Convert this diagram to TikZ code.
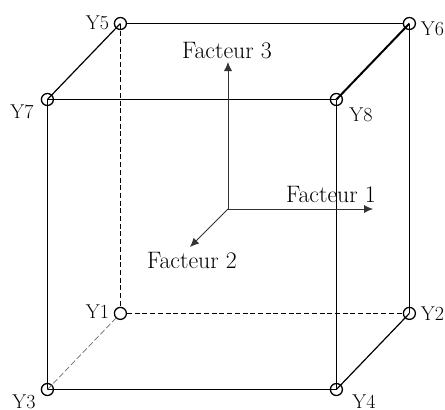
\documentclass[tikz,border=0pt]{standalone}
\usepackage{fontspec}
\usepackage{xcolor}
\usepackage{tikz}
\usetikzlibrary{
    arrows.meta
}
\tikzset{
    cube corner/.style={
        draw,
        circle,
        minimum size=12pt,
        inner sep=0pt,
        line width=1.3pt
    },
    cube label/.style={font=\fontsize{20}{22}\selectfont, inner sep=0pt},
    factor label/.style={font=\fontsize{23.8}{26}\selectfont, inner sep=0pt},
    cube edge/.style={line width=1.2pt},
    cube thick/.style={line width=2pt},
    cube hidden/.style={line width=1pt, dash pattern=on 5pt off 2.7pt},
    cube faint/.style={line width=0.7pt, draw=gray!85!black, dash pattern=on 6pt off 2.5pt},
    factor arrow/.style={-{Latex[length=9pt,width=8pt]}, line width=0.8pt, draw=black!80}
}
\begin{document}
\begin{tikzpicture}[x=1pt,y=-1pt]
    \useasboundingbox (0,0) rectangle (445,410);

    \node[cube corner] (y1) at (120.4,313.4) {};
    \node[cube corner] (y2) at (409.4,313.4) {};
    \node[cube corner] (y3) at (47.4,389.5) {};
    \node[cube corner] (y4) at (336.4,389.5) {};
    \node[cube corner] (y5) at (120.4,23.5) {};
    \node[cube corner] (y6) at (409.4,23.5) {};
    \node[cube corner] (y7) at (47.4,99.5) {};
    \node[cube corner] (y8) at (336.4,99.5) {};

    \node[cube label] (labelone) at (97.5,312) {Y1};
    \node[cube label] (labeltwo) at (432.5,314) {Y2};
    \node[cube label] (labelthree) at (24,401.5) {Y3};
    \node[cube label] (labelfour) at (364,401.5) {Y4};
    \node[cube label] (labelfive) at (97.5,23) {Y5};
    \node[cube label] (labelsix) at (432.5,29) {Y6};
    \node[cube label] (labelseven) at (22,112) {Y7};
    \node[cube label] (labeleight) at (361,115) {Y8};

    \coordinate (origin) at (228,209);
    \coordinate (tipone) at (373,209);
    \coordinate (tiptwo) at (190,247);
    \coordinate (tipthree) at (228,62);
    \node[factor label] (factorone) at (331,194) {Facteur 1};
    \node[factor label] (factortwo) at (192,260) {Facteur 2};
    \node[factor label] (factorthree) at (227,51) {Facteur 3};

    \draw[cube edge] (y5) -- (y6);
    \draw[cube edge] (y7.center) -- (y8.center);
    \draw[cube edge] (y3.center) -- (y4.center);
    \draw[cube edge] (y7.center) -- (y3.center);
    \draw[cube edge] (y8.center) -- (y4.center);
    \draw[cube edge] (y6.center) -- (y2.center);
    \draw[cube edge] (y7.center) -- (y5.center);
    \draw[cube edge] (y4.center) -- (y2.center);
    \draw[cube thick] (y8.center) -- (y6.center);

    \draw[cube hidden] (y5.center) -- (y1);
    \draw[cube hidden] (y1) -- (y2);
    \draw[cube faint] (y3.center) -- (y1);

    \foreach \tip in {tipone,tiptwo,tipthree}
        \draw[factor arrow] (origin) -- (\tip);
\end{tikzpicture}
\end{document}
